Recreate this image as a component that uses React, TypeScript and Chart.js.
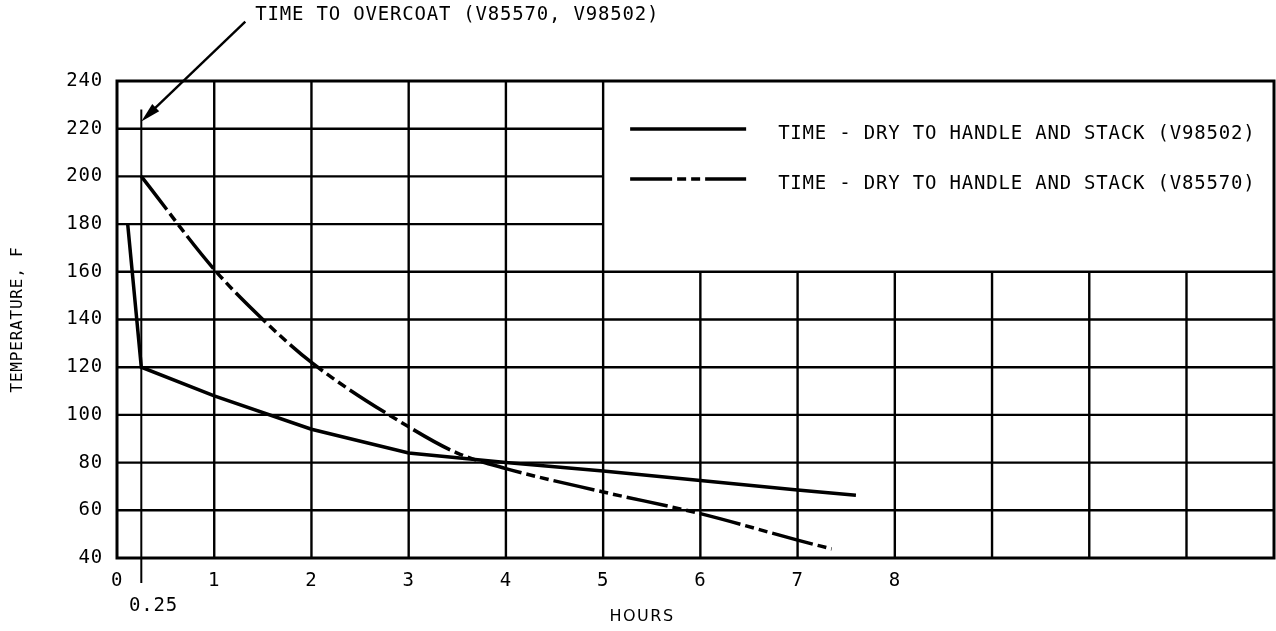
import React, { useEffect, useRef } from 'react';
import { Chart, registerables } from 'chart.js';

Chart.register(...registerables);

// ---- Data ----
const hoursV98502 = [0.11, 0.25, 1, 2, 3, 4, 5, 6, 7, 7.6];
const tempV98502 = [180, 120, 108, 94, 84, 80, 76.5, 72.5, 68.5, 66.3];

const hoursV85570 = [0.25, 1, 1.5, 2, 3, 3.5, 4, 5, 6, 7, 7.35];
const tempV85570 = [200, 161, 140, 122, 95, 84, 77.5, 67.7, 58.6, 47.5, 43.8];

const seriesLabels = [
  'TIME - DRY TO HANDLE AND STACK (V98502)',
  'TIME - DRY TO HANDLE AND STACK (V85570)',
];

const xTickValues = [0, 0.25, 1, 2, 3, 4, 5, 6, 7, 8];
const xMin = 0;
const xMax = 11.9;
const yMin = 40;
const yMax = 240;
const yStep = 20;

// grid layout of the drawing
const fullHeightVLines = [1, 2, 3, 4, 5];
const lowerVLines = [6, 7, 8, 9, 10, 11];
const fullWidthHLines = [60, 80, 100, 120, 140, 160];
const leftHLines = [180, 200, 220];
const legendBoxLeftHour = 5;
const legendBoxBottomTemp = 160;

// overcoat annotation
const overcoatHour = 0.25;
const overcoatMarkerTopTemp = 228;
const overcoatArrowTemp = 223;
const overcoatText = 'TIME TO OVERCOAT (V85570, V98502)';

const xTitle = 'HOURS';
const yTitle = 'TEMPERATURE, F';

const MONO = '"DejaVu Sans Mono", monospace';

const drawingPlugin = {
  id: 'drawingPlugin',
  beforeDraw(chart: any) {
    chart.ctx.letterSpacing = '0.8px';
  },
  beforeDatasetsDraw(chart: any) {
    const { ctx, chartArea: ca, scales } = chart;
    const x = scales.x;
    const y = scales.y;
    ctx.save();
    ctx.strokeStyle = '#000';
    ctx.lineWidth = 2.4;
    ctx.lineCap = 'butt';
    const seg = (x1: number, y1: number, x2: number, y2: number) => {
      ctx.beginPath();
      ctx.moveTo(x1, y1);
      ctx.lineTo(x2, y2);
      ctx.stroke();
    };
    const boxX = x.getPixelForValue(legendBoxLeftHour);
    const boxY = y.getPixelForValue(legendBoxBottomTemp);
    fullWidthHLines.forEach((v) => {
      const p = y.getPixelForValue(v);
      seg(ca.left, p, ca.right, p);
    });
    leftHLines.forEach((v) => {
      const p = y.getPixelForValue(v);
      seg(ca.left, p, boxX, p);
    });
    fullHeightVLines.forEach((v) => {
      const p = x.getPixelForValue(v);
      seg(p, ca.top, p, ca.bottom);
    });
    lowerVLines.forEach((v) => {
      const p = x.getPixelForValue(v);
      seg(p, boxY, p, ca.bottom);
    });
    // overcoat marker line (extends below the axis as a tick)
    ctx.lineWidth = 2;
    const mx = x.getPixelForValue(overcoatHour);
    seg(mx, y.getPixelForValue(overcoatMarkerTopTemp), mx, ca.bottom + 25);
    // frame
    ctx.lineWidth = 3;
    ctx.strokeRect(ca.left, ca.top, ca.right - ca.left, ca.bottom - ca.top);
    ctx.restore();
  },
  afterDraw(chart: any) {
    const { ctx, chartArea: ca, scales } = chart;
    const x = scales.x;
    const y = scales.y;
    ctx.save();
    ctx.fillStyle = '#000';
    ctx.strokeStyle = '#000';

    // arrow + annotation
    const tipX = x.getPixelForValue(overcoatHour);
    const tipY = y.getPixelForValue(overcoatArrowTemp);
    const tailX = tipX + 104;
    const tailY = tipY - 100;
    ctx.lineWidth = 2.4;
    ctx.beginPath();
    ctx.moveTo(tailX, tailY);
    ctx.lineTo(tipX + 8, tipY - 8);
    ctx.stroke();
    const ang = Math.atan2(tipY - tailY, tipX - tailX);
    const L = 20;
    const W = 5;
    ctx.beginPath();
    ctx.moveTo(tipX, tipY);
    ctx.lineTo(tipX - L * Math.cos(ang) + W * Math.sin(ang), tipY - L * Math.sin(ang) - W * Math.cos(ang));
    ctx.lineTo(tipX - L * Math.cos(ang) - W * Math.sin(ang), tipY - L * Math.sin(ang) + W * Math.cos(ang));
    ctx.closePath();
    ctx.fill();

    ctx.letterSpacing = '0.8px';
    ctx.font = `19px ${MONO}`;
    ctx.textAlign = 'left';
    ctx.textBaseline = 'middle';
    ctx.fillText(overcoatText, tailX + 10, tailY - 6);

    // legend inside the upper-right box
    const boxX = x.getPixelForValue(legendBoxLeftHour);
    chart.data.datasets.forEach((ds: any, i: number) => {
      const rowY = ca.top + 48 + i * 50;
      ctx.save();
      ctx.lineWidth = ds.borderWidth;
      ctx.setLineDash(ds.borderDash || []);
      ctx.beginPath();
      ctx.moveTo(boxX + 27, rowY);
      ctx.lineTo(boxX + 143, rowY);
      ctx.stroke();
      ctx.restore();
      ctx.fillText(ds.label, boxX + 175, rowY + 5);
    });

    // x axis title
    ctx.letterSpacing = '1.5px';
    ctx.font = '16px "DejaVu Sans", sans-serif';
    ctx.textAlign = 'center';
    ctx.fillText(xTitle, ca.left + 525, ca.bottom + 59);
    ctx.restore();
  },
};

export default function App() {
  const canvasRef = useRef<HTMLCanvasElement | null>(null);

  useEffect(() => {
    const canvas = canvasRef.current;
    if (!canvas) return;
    const chart = new Chart(canvas, {
      type: 'line',
      data: {
        datasets: [
          {
            label: seriesLabels[0],
            data: hoursV98502.map((h, i) => ({ x: h, y: tempV98502[i] })),
            borderColor: '#000',
            borderWidth: 3.5,
            pointRadius: 0,
            tension: 0,
            fill: false,
          },
          {
            label: seriesLabels[1],
            data: hoursV85570.map((h, i) => ({ x: h, y: tempV85570[i] })),
            borderColor: '#000',
            borderWidth: 3.5,
            borderDash: [42, 5, 9, 5, 9, 5],
            pointRadius: 0,
            cubicInterpolationMode: 'monotone',
            fill: false,
          },
        ],
      },
      options: {
        animation: false,
        responsive: false,
        devicePixelRatio: 1,
        layout: { padding: { left: 0, top: 81, right: 2, bottom: 0 } },
        plugins: {
          legend: { display: false },
          tooltip: { enabled: false },
          title: { display: false },
        },
        scales: {
          x: {
            type: 'linear',
            min: xMin,
            max: xMax,
            grid: { display: false },
            border: { display: false },
            afterBuildTicks: (scale: any) => {
              scale.ticks = xTickValues.map((v) => ({ value: v }));
            },
            afterFit: (scale: any) => {
              scale.height = 73;
            },
            ticks: {
              autoSkip: false,
              maxRotation: 0,
              minRotation: 0,
              padding: 2,
              color: '#000',
              font: { family: MONO, size: 19, lineHeight: 1.35 },
              callback: (v: any) => (v === overcoatHour ? ['', '  0.25'] : String(v)),
            },
          },
          y: {
            type: 'linear',
            min: yMin,
            max: yMax,
            grid: { display: false },
            border: { display: false },
            afterFit: (scale: any) => {
              scale.width = 117;
            },
            ticks: {
              stepSize: yStep,
              padding: 6,
              color: '#000',
              font: { family: MONO, size: 19 },
            },
            title: {
              display: true,
              text: yTitle,
              color: '#000',
              font: { family: MONO, size: 16 },
              padding: { top: 8, bottom: 0 },
            },
          },
        },
      },
      plugins: [drawingPlugin],
    } as any);
    return () => chart.destroy();
  }, []);

  return (
    <div style={{ position: 'fixed', left: 0, top: 0, width: 1276, height: 631, background: '#fff' }}>
      <canvas ref={canvasRef} width={1276} height={631} style={{ display: 'block' }} />
    </div>
  );
}
